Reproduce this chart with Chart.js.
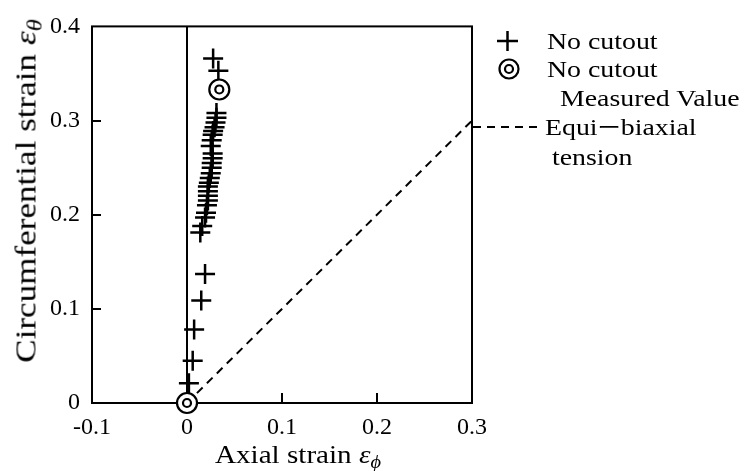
<!DOCTYPE html>
<html>
<head>
<meta charset="utf-8">
<script src="https://cdn.jsdelivr.net/npm/chart.js@4"></script>
<style>
  html, body { margin:0; padding:0; background:#fff; }
  #wrap { position:relative; width:744px; height:471px; font-family:"Liberation Serif","Times New Roman",serif; color:#000; }
  canvas { position:absolute; left:0; top:0; }
  .t { position:absolute; font-size:24px; line-height:28px; white-space:nowrap; transform:scaleX(1.16); transform-origin:0 50%; }
  .dash { font-family:"Noto Sans CJK JP",sans-serif; font-size:20px; }
  #ytitle { position:absolute; left:30px; top:191px; transform:translate(-50%,-50%) rotate(-90deg) scaleX(1.21); font-size:29px; line-height:32px; white-space:nowrap; }
  #xtitle { position:absolute; left:215px; top:440px; font-size:26px; white-space:nowrap; line-height:30px; transform:scaleX(1.12); transform-origin:0 50%; }
  sub { font-size:0.7em; vertical-align:-0.3em; }
</style>
</head>
<body>
<div id="wrap">
  <canvas id="c" width="744" height="471"></canvas>
  <div id="ytitle">Circumferential strain <i>ε</i><sub><i>θ</i></sub></div>
  <div id="xtitle">Axial strain <i>ε</i><sub><i>ϕ</i></sub></div>
  <div class="t" style="left:547px;top:27px;">No cutout</div>
  <div class="t" style="left:547px;top:55px;">No cutout</div>
  <div class="t" style="left:560px;top:84px;">Measured Value</div>
  <div class="t" style="left:545px;top:113px;">Equi<span class="dash">ー</span>biaxial</div>
  <div class="t" style="left:552px;top:143px;">tension</div>
</div>
<script>
// ---- data ----
const xTicks = [-0.1, 0, 0.1, 0.2, 0.3];
const yTicks = [0, 0.1, 0.2, 0.3, 0.4];
const xTickLabels = ["-0.1", "0", "0.1", "0.2", "0.3"];
const yTickLabels = ["0", "0.1", "0.2", "0.3", "0.4"];

// "No cutout" (+ markers)
const plusX = [0.0275, 0.033, 0.031, 0.031, 0.030, 0.029, 0.0275, 0.027, 0.026, 0.025,
               0.027, 0.027, 0.026, 0.026, 0.025, 0.024, 0.023, 0.022, 0.022, 0.022,
               0.022, 0.021, 0.020, 0.019, 0.016, 0.014, 0.019, 0.015, 0.0075, 0.006, 0.002];
const plusY = [0.366, 0.353, 0.308, 0.303, 0.298, 0.293, 0.289, 0.285, 0.279, 0.273,
               0.265, 0.260, 0.255, 0.250, 0.244, 0.239, 0.234, 0.230, 0.225, 0.220,
               0.215, 0.210, 0.202, 0.197, 0.188, 0.181, 0.137, 0.109, 0.078, 0.045, 0.021];

// "No cutout Measured Value" (double circles)
const measX = [0, 0.034];
const measY = [0, 0.333];

// vertical reference line at axial strain 0
const vertX = [0, 0];
const vertY = [0, 0.4];

// Equi-biaxial tension line
const equiX = [0, 0.3];
const equiY = [0, 0.3];

const pts = (xs, ys) => xs.map((x, i) => ({x, y: ys[i]}));

const FONT = "'Liberation Serif','Times New Roman',serif";

const framePlugin = {
  id: 'frame',
  beforeDatasetsDraw(chart) {
    const {ctx, chartArea: a, scales: {x, y}} = chart;
    ctx.save();
    ctx.strokeStyle = '#000';
    ctx.lineWidth = 2;
    ctx.strokeRect(a.left, a.top, a.right - a.left, a.bottom - a.top);
    ctx.beginPath();
    xTicks.forEach(v => {
      if (v <= x.min || v >= x.max) return;
      const px = Math.round(x.getPixelForValue(v));
      ctx.moveTo(px, a.bottom); ctx.lineTo(px, a.bottom - 10);
    });
    yTicks.forEach(v => {
      if (v <= y.min || v >= y.max) return;
      const py = Math.round(y.getPixelForValue(v));
      ctx.moveTo(a.left, py); ctx.lineTo(a.left + 9, py);
    });
    ctx.stroke();
    ctx.restore();
  },
  afterDraw(chart) {
    const {ctx, chartArea: a} = chart;
    ctx.save();
    ctx.strokeStyle = '#000';
    ctx.lineWidth = 2.5;
    ctx.beginPath();
    ctx.moveTo(497, 41); ctx.lineTo(518, 41);
    ctx.moveTo(507.5, 31); ctx.lineTo(507.5, 51);
    ctx.stroke();
    ctx.lineWidth = 2.2;
    ctx.beginPath(); ctx.arc(509, 69, 9.5, 0, Math.PI * 2); ctx.stroke();
    ctx.beginPath(); ctx.arc(509, 69, 4, 0, Math.PI * 2); ctx.stroke();
    ctx.lineWidth = 2;
    ctx.setLineDash([8, 6]);
    ctx.beginPath();
    ctx.moveTo(a.right + 1, 127); ctx.lineTo(541, 127);
    ctx.stroke();
    ctx.restore();
  }
};

new Chart(document.getElementById('c'), {
  type: 'scatter',
  data: {
    datasets: [
      { label: 'No cutout Measured Value outer', data: pts(measX, measY), order: 0,
        pointStyle: 'circle', pointRadius: 10, pointHoverRadius: 10, borderWidth: 2.2,
        borderColor: '#000', backgroundColor: '#fff', showLine: false, clip: false },
      { label: 'No cutout Measured Value inner', data: pts(measX, measY), order: -1,
        pointStyle: 'circle', pointRadius: 4, pointHoverRadius: 4, borderWidth: 2.2,
        borderColor: '#000', backgroundColor: '#fff', showLine: false, clip: false },
      { label: 'No cutout', data: pts(plusX, plusY), order: 1,
        pointStyle: 'cross', pointRadius: 10, pointHoverRadius: 10, borderWidth: 2.5,
        borderColor: '#000', backgroundColor: '#000', showLine: false, clip: false },
      { label: 'zero', data: pts(vertX, vertY), order: 2, showLine: true,
        borderColor: '#000', borderWidth: 2, pointRadius: 0 },
      { label: 'Equi-biaxial tension', data: pts(equiX, equiY), order: 2, showLine: true,
        borderColor: '#000', borderWidth: 2, borderDash: [8, 6], pointRadius: 0 }
    ]
  },
  options: {
    responsive: false,
    animation: false,
    devicePixelRatio: 1,
    events: [],
    layout: { padding: { left: 0, right: 272, top: 25, bottom: 0 } },
    plugins: { legend: { display: false }, tooltip: { enabled: false } },
    scales: {
      x: {
        type: 'linear', min: -0.1, max: 0.3,
        afterBuildTicks: s => { s.ticks = xTicks.map(v => ({value: v})); },
        afterFit: s => { s.height = 68; },
        grid: { display: false, drawTicks: false },
        border: { display: false },
        ticks: { padding: 10, color: '#000', font: { family: FONT, size: 24 },
          callback: (v) => xTickLabels[xTicks.findIndex(t => Math.abs(t - v) < 1e-9)] },
        title: { display: false }
      },
      y: {
        type: 'linear', min: 0, max: 0.4,
        afterBuildTicks: s => { s.ticks = yTicks.map(v => ({value: v})); },
        afterFit: s => { s.width = 92; },
        grid: { display: false, drawTicks: false },
        border: { display: false },
        ticks: { padding: 12, color: '#000', font: { family: FONT, size: 24 },
          callback: (v) => yTickLabels[yTicks.findIndex(t => Math.abs(t - v) < 1e-9)] },
        title: { display: false }
      }
    }
  },
  plugins: [framePlugin]
});
</script>
</body>
</html>
